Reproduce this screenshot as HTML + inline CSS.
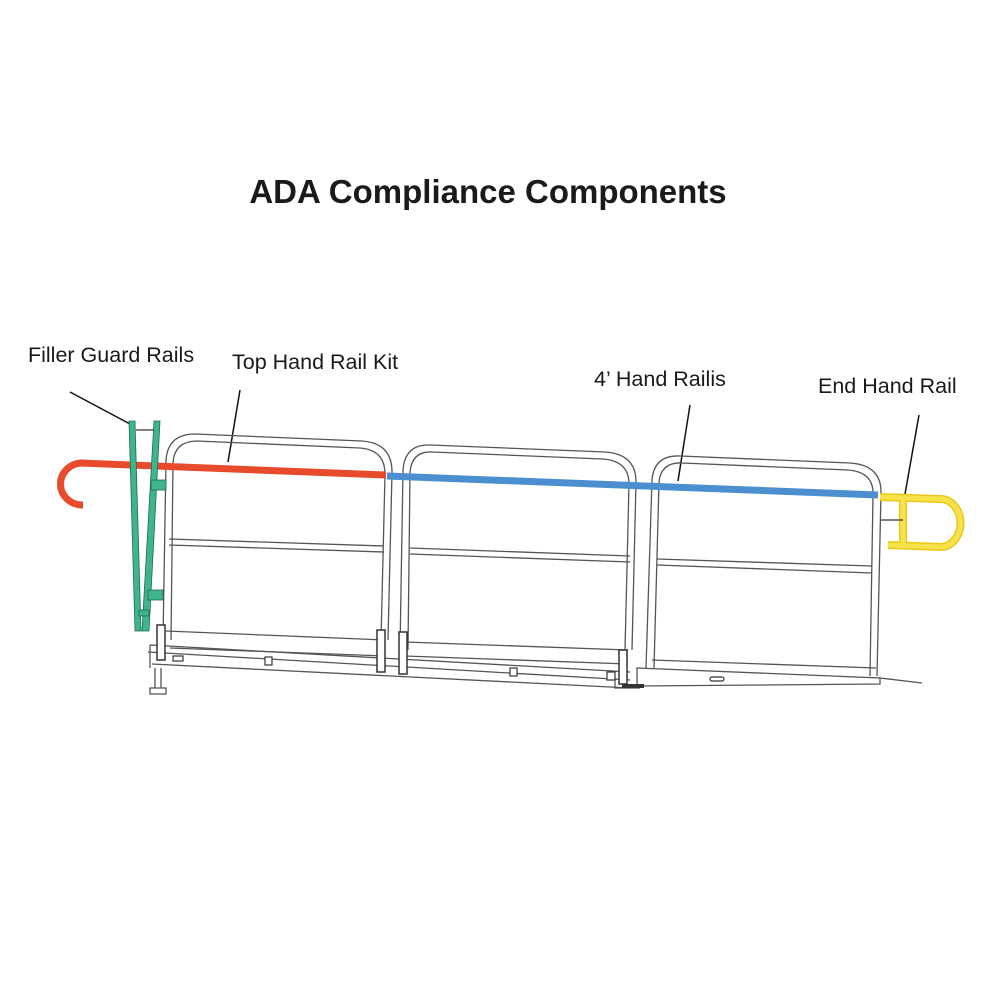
<!DOCTYPE html>
<html><head><meta charset="utf-8"><style>
html,body{margin:0;padding:0;background:#fff;}
svg{display:block;}
text{font-family:"Liberation Sans",Arial,sans-serif;fill:#1a1a1a;}
</style></head><body>
<svg width="1000" height="1000" viewBox="0 0 1000 1000" xmlns="http://www.w3.org/2000/svg">
<rect width="1000" height="1000" fill="#fff"/>
<text x="488" y="203" font-size="33" font-weight="bold" text-anchor="middle">ADA Compliance Components</text>
<text x="28" y="362" font-size="21.5">Filler Guard Rails</text>
<text x="232" y="369" font-size="21.5">Top Hand Rail Kit</text>
<text x="594" y="386" font-size="21.5">4’ Hand Railis</text>
<text x="818" y="393" font-size="21.5">End Hand Rail</text>
<g stroke="#111" stroke-width="1.5" fill="none">
<line x1="70" y1="392" x2="130" y2="424"/>
<line x1="240" y1="390" x2="228" y2="462"/>
<line x1="690" y1="405" x2="678" y2="481"/>
<line x1="919" y1="415" x2="905" y2="494"/>
</g>
<g stroke="#555" stroke-width="1.3" fill="none">
<path d="M163 640 L166 460 Q168 434 195 434 L362 441 Q392 443 392 472 L388 640"/>
<path d="M171 640 L173 462 Q175 441 197 441 L360 448 Q385 450 385 474 L381 640"/>
<path d="M400 650 L403 470 Q405 444 430 445 L605 452 Q636 454 636 482 L632 650"/>
<path d="M408 650 L410 472 Q412 451 432 452 L603 459 Q629 461 629 484 L625 650"/>
<path d="M646 668 L652 480 Q654 455 680 456 L850 463 Q881 465 881 492 L877 676"/>
<path d="M654 668 L659 482 Q661 462 682 463 L848 470 Q874 472 873 495 L870 676"/>
<path d="M169 539 L384 546 M169 545 L384 552"/>
<path d="M410 548 L630 556 M410 554 L630 562"/>
<path d="M657 559 L872 566 M657 565 L872 573"/>
<path d="M166 631 L385 640 M170 648 L385 656"/>
<path d="M405 642 L628 650 M405 656 L628 664"/>
<path d="M652 660 L876 668"/>
<path d="M150 645 L630 672 M148 652 L630 680 M152 664 L630 688 M150 645 L150 668"/>
<path d="M637 668 L880 678 L880 684 L637 686 Z"/>
<path d="M880 678 L922 683"/>
<path d="M155 668 L155 688 L161 688 L161 668 M150 688 L166 688 L166 694 L150 694 Z"/>
<path d="M615 680 L615 688 L640 688"/>
</g>
<g fill="#fff" stroke="#333" stroke-width="1.2">
<rect x="173" y="656" width="10" height="5"/><rect x="265" y="657" width="7" height="8"/>
<rect x="510" y="668" width="7" height="8"/><rect x="607" y="672" width="8" height="8"/>
<rect x="710" y="677" width="14" height="4" rx="2"/>
</g>
<g fill="#fff" stroke="#333" stroke-width="1.5">
<rect x="377" y="630" width="8" height="42"/>
<rect x="399" y="632" width="8" height="42"/>
<rect x="619" y="650" width="8" height="34"/>
<rect x="157" y="625" width="8" height="35"/>
</g>
<rect x="622" y="684" width="22" height="4" fill="#333"/>
<g stroke="#e84a2c" stroke-width="7" fill="none">
<path d="M80 463 L386 475"/>
<path d="M82 463 A22 21 0 0 0 83 505"/>
</g>
<path d="M387 476 L878 495" stroke="#4b8fd0" stroke-width="7" fill="none"/>
<g fill="#3fb58e" stroke="#1f6b52" stroke-width="0.8">
<path d="M129 421 L135 421 L141 631 L135 631 Z"/>
<path d="M154 421 L160 421 L149 631 L142 631 Z"/>
<rect x="151" y="480" width="15" height="10"/>
<rect x="148" y="590" width="15" height="10"/>
<rect x="139" y="610" width="10" height="6"/>
</g>
<path d="M136 430 L154 430" stroke="#333" stroke-width="1.3"/>
<g stroke="#e8c91a" stroke-width="8" fill="none">
<path d="M880 497 L940 499 A20 24 0 0 1 941 547 L888 545"/>
<path d="M903 499 L903 545"/>
</g>
<g stroke="#f6e24a" stroke-width="5" fill="none">
<path d="M880 497 L940 499 A20 24 0 0 1 941 547 L888 545"/>
<path d="M903 499 L903 545"/>
</g>
<path d="M880 520 L903 520" stroke="#555" stroke-width="1.5"/>
</svg>
</body></html>
